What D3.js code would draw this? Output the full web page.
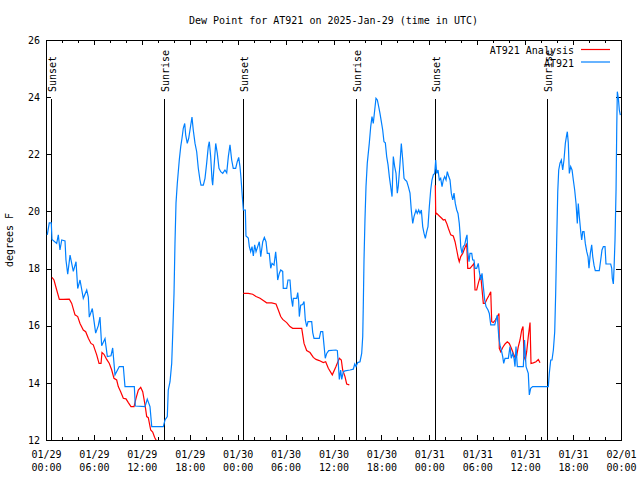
<!DOCTYPE html>
<html><head><meta charset="utf-8">
<script src="https://cdn.jsdelivr.net/npm/d3@7/dist/d3.min.js"></script>
<style>
html,body{margin:0;padding:0;background:#fff;}
svg text{font-family:"DejaVu Sans Mono",monospace;font-size:10px;fill:#000;}
</style></head>
<body><svg id="chart" width="640" height="480"></svg>
<script>
// ---- data (hours since 2025-01-29 00:00 UTC, degrees F) ----
const title = "Dew Point for AT921 on 2025-Jan-29 (time in UTC)";
const yLabel = "degrees F";
const seriesNames = ["AT921 Analysis", "AT921"];
const seriesColors = ["#ff0000", "#0080ff"];
const xTickHours = [0,6,12,18,24,30,36,42,48,54,60,66,72];
const xTickDates = ["01/29","01/29","01/29","01/29","01/30","01/30","01/30","01/30","01/31","01/31","01/31","01/31","02/01"];
const xTickTimes = ["00:00","06:00","12:00","18:00","00:00","06:00","12:00","18:00","00:00","06:00","12:00","18:00","00:00"];
const xMinorHours = [2,4,8,10,14,16,20,22,26,28,32,34,38,40,44,46,50,52,56,58,62,64,68,70];
const yTicks = [12,14,16,18,20,22,24,26];
const sunNames = ["Sunset","Sunrise","Sunset","Sunrise","Sunset","Sunrise"];
const sunHours = [0.63,14.81,24.71,38.76,48.65,62.77];

// AT921 observations
const obsHours = [0.16,0.41,0.66,0.75,1.34,1.54,1.75,1.97,2.38,2.50,2.72,3.01,3.42,3.76,3.97,4.26,4.67,5.10,5.30,5.42,5.80,6.22,6.55,6.76,6.97,7.39,7.68,8.14,8.35,8.64,9.18,9.68,9.89,11.06,11.18,12.40,12.68,13.02,13.24,14.69,14.90,15.19,15.31,15.53,15.74,15.87,16.03,16.15,16.28,16.44,16.69,16.87,17.03,17.19,17.37,17.49,17.69,17.87,18.03,18.28,18.44,18.66,18.87,19.07,19.28,19.41,19.70,19.91,20.12,20.32,20.45,20.62,20.79,20.87,21.04,21.25,21.45,21.66,21.88,22.13,22.41,22.63,22.83,23.04,23.25,23.45,23.75,23.95,24.13,24.29,24.42,24.58,24.71,24.96,25.04,25.33,25.46,25.63,25.80,25.96,26.13,26.30,26.51,26.71,26.89,27.14,27.34,27.55,27.71,27.96,28.14,28.30,28.55,28.76,28.89,29.01,29.21,29.39,29.64,29.71,30.14,30.30,30.55,30.72,30.89,30.97,31.39,31.52,31.64,31.72,31.89,32.14,32.31,32.47,32.65,32.81,33.27,33.40,33.56,34.22,34.40,34.65,34.81,34.97,35.15,35.40,36.31,36.48,36.60,36.73,36.90,37.03,37.23,37.44,38.07,38.48,38.66,38.82,39.03,39.32,39.53,39.66,39.73,39.82,39.94,40.07,40.23,40.48,40.66,40.82,40.98,41.16,41.32,41.49,41.66,41.82,41.99,42.16,42.32,42.49,42.66,42.83,42.99,43.16,43.33,43.49,43.66,43.83,43.99,44.12,44.33,44.49,44.67,44.83,44.99,45.17,45.37,45.58,45.74,45.92,46.08,46.33,46.49,46.67,46.83,47.00,47.17,47.33,47.50,47.67,47.83,48.00,48.17,48.33,48.50,48.67,48.80,48.92,49.09,49.25,49.42,49.59,49.75,49.92,50.09,50.25,50.43,50.59,50.75,50.93,51.09,51.25,51.43,51.59,51.75,51.84,51.93,52.09,52.25,52.43,52.59,52.72,52.81,52.97,53.09,53.31,53.43,53.59,53.72,53.93,54.13,54.26,54.43,54.60,54.76,54.93,55.10,55.35,55.51,55.69,56.19,56.35,56.51,56.69,56.85,57.01,57.19,57.31,57.48,57.89,58.10,58.26,58.44,58.60,58.73,58.85,59.02,59.77,59.92,60.11,60.39,60.52,60.69,60.94,62.90,63.02,63.20,63.36,63.53,63.70,63.82,63.95,64.08,64.20,64.36,64.53,64.70,64.86,65.03,65.20,65.28,65.40,65.53,65.70,65.87,66.03,66.20,66.37,66.53,66.65,66.78,66.96,67.08,67.21,67.37,67.53,67.71,67.87,67.99,68.16,68.33,68.46,68.62,68.78,69.28,69.46,69.62,69.79,70.00,70.12,70.71,70.84,70.91,71.04,71.13,71.25,71.38,71.47,71.54,71.67,71.79,71.92];
const obsValues = [19.18,19.6,19.6,19.02,18.88,19.18,18.65,19.0,18.97,18.3,17.8,18.47,17.9,18.24,17.3,17.6,16.96,17.25,17.0,16.3,16.6,15.74,16.0,16.3,15.3,15.55,14.92,14.95,15.22,14.28,14.57,14.57,13.87,13.87,13.19,13.17,13.43,13.17,12.47,12.47,12.7,12.82,13.75,14.04,14.68,15.73,17.13,18.88,20.3,20.98,21.8,22.27,22.56,22.91,23.08,22.68,22.38,22.56,22.85,23.3,22.85,22.38,22.09,21.51,21.1,20.92,20.92,21.16,21.69,22.27,22.44,21.92,21.1,20.92,21.57,22.38,22.03,21.51,21.39,21.33,21.45,21.35,21.92,22.33,21.8,21.51,21.51,21.74,21.89,21.57,21.16,20.52,20.05,20.05,19.14,19.07,18.77,18.59,18.77,18.44,18.83,18.59,18.77,18.94,18.42,18.94,19.09,18.94,18.53,18.53,18.01,18.18,18.12,18.59,18.18,17.6,17.83,17.95,17.9,17.31,17.31,17.6,17.6,16.96,16.67,16.96,16.96,17.16,16.85,16.32,16.72,16.74,16.85,16.2,15.97,16.14,16.14,15.76,15.56,15.56,15.79,15.79,15.32,14.86,15.03,15.13,15.15,15.13,14.68,14.12,14.45,14.12,14.39,14.42,14.45,14.48,14.66,14.57,14.71,14.74,15.03,15.62,16.7,18.3,19.7,20.87,21.69,22.38,22.97,23.32,23.08,23.55,23.96,23.9,23.67,23.43,23.14,22.85,22.44,22.4,21.92,21.63,21.22,20.87,20.52,21.92,21.57,21.33,20.64,20.9,21.69,22.38,21.8,21.16,21.1,21.05,20.87,20.64,20.05,19.58,19.82,20.05,19.93,20.05,19.93,20.05,19.47,19.24,19.06,19.29,19.47,20.17,20.75,21.1,21.28,21.33,21.8,21.33,21.45,21.1,21.16,20.87,21.1,21.22,21.1,21.39,21.22,21.1,20.64,20.4,20.64,20.28,20.05,19.93,19.58,19.24,18.77,18.53,18.77,18.83,19.06,19.18,18.59,18.24,18.53,18.53,18.3,18.3,18.01,18.01,18.18,17.89,17.6,17.83,17.37,16.9,16.67,16.55,16.43,16.03,16.03,16.2,16.37,15.62,15.32,15.15,14.92,14.68,14.86,14.86,15.27,14.86,15.03,14.86,14.57,15.27,14.57,14.57,15.5,14.57,14.33,13.58,13.81,13.87,13.87,14.33,14.8,14.8,15.15,15.79,17.13,19.0,20.69,21.45,21.69,21.8,21.45,21.8,22.38,22.68,22.79,22.4,21.33,21.57,21.45,21.1,20.75,20.28,19.58,20.28,19.82,19.29,19.0,19.29,19.29,18.88,18.59,18.42,18.01,18.53,18.83,18.42,18.12,17.93,17.93,18.3,18.65,18.77,18.77,18.16,18.16,18.01,17.66,17.46,18.01,19.0,20.75,22.97,24.19,23.96,23.55,23.37];

// AT921 Analysis (three separate runs)
const anaHours1 = [0.75,1.00,1.34,1.67,2.17,2.92,3.22,3.63,3.97,4.26,4.67,4.97,5.30,5.63,5.92,6.35,6.64,6.89,7.01,7.26,7.60,7.93,8.23,8.51,8.85,9.05,9.35,9.68,10.02,10.31,10.64,11.02,11.27,11.56,11.86,12.11,12.40,12.61,12.81,13.11,13.36,13.61,13.77,14.06];
const anaValues1 = [17.69,17.6,17.25,16.92,16.92,16.93,16.78,16.38,16.32,16.08,15.85,15.79,15.56,15.38,15.33,14.98,14.68,14.68,15.06,15.0,14.82,14.68,14.45,14.16,14.1,13.87,13.69,13.46,13.44,13.31,13.17,13.17,13.46,13.75,13.84,13.69,13.23,12.82,12.78,12.35,12.28,12.09,12.0,11.9];
const anaHours2 = [24.71,25.33,25.88,26.30,26.80,27.21,27.63,28.26,28.80,29.09,29.39,29.64,30.14,30.55,30.89,32.02,32.31,32.64,33.06,33.47,33.81,34.22,34.72,35.02,35.35,35.85,36.31,36.73,36.98,37.15,37.44,37.65,37.98];
const anaValues2 = [17.13,17.13,17.1,17.02,16.96,16.88,16.8,16.8,16.76,16.55,16.32,16.22,16.11,15.97,15.91,15.91,15.38,15.13,15.06,14.89,14.82,14.78,14.71,14.74,14.51,14.28,14.57,14.86,14.8,14.45,14.22,13.96,13.93];
const anaHours3 = [48.75,48.80,48.92,49.25,49.55,49.75,49.96,50.18,50.38,50.68,51.00,51.22,51.43,51.63,51.75,51.93,52.18,52.43,52.68,52.81,53.09,53.43,53.59,53.72,53.93,54.13,54.43,54.76,54.97,55.19,55.43,55.69,55.81,56.01,56.26,56.51,56.72,56.76,56.94,57.19,57.48,57.76,58.01,58.27,58.52,58.77,58.94,59.14,59.35,59.57,59.73,59.86,60.02,60.19,60.39,60.61,60.73,61.02,61.36,61.65,61.86];
const anaValues3 = [20.92,19.9,19.93,19.84,19.76,19.7,19.72,19.58,19.41,19.18,19.14,18.94,18.65,18.36,18.24,18.42,18.53,18.71,18.88,18.01,18.01,18.12,18.18,17.25,17.25,17.48,17.78,16.78,16.78,16.92,17.04,17.19,16.14,16.11,16.2,16.32,16.43,15.21,15.09,15.24,15.36,15.44,15.38,15.21,15.03,14.86,14.95,15.27,15.5,15.85,15.97,14.92,14.8,15.09,15.62,16.11,14.68,14.7,14.74,14.82,14.7];

// ---- drawing ----
const svg = d3.select("#chart");
const L = 46, R = 621, T = 40, B = 440;
const x = d3.scaleLinear().domain([0,72]).range([L,R]);
const y = d3.scaleLinear().domain([12,26]).range([B,T]);

svg.append("defs").append("clipPath").attr("id","plotclip")
  .append("rect").attr("x",L).attr("y",T).attr("width",R-L).attr("height",B-T);

// title
svg.append("text").attr("x",(L+R)/2).attr("y",24).attr("text-anchor","middle").text(title);
// y label
svg.append("text").attr("transform","translate(13,240) rotate(-90)").attr("text-anchor","middle").text(yLabel);

function styleAxis(g){
  g.select(".domain").remove();
  g.selectAll("line").attr("stroke","#000").attr("shape-rendering","crispEdges");
  g.selectAll("text").style("font-family","DejaVu Sans Mono, monospace").style("font-size","10px").attr("fill","#000");
}

// bottom major with two-line labels
const gx = svg.append("g").attr("transform",`translate(0,${B})`)
  .call(d3.axisBottom(x).tickValues(xTickHours).tickSize(-5).tickFormat(""));
gx.selectAll(".tick text").remove();
gx.selectAll(".tick").each(function(d,i){
  const t = d3.select(this).append("text").attr("text-anchor","middle");
  t.append("tspan").attr("x",0).attr("y",18).text(xTickDates[i]);
  t.append("tspan").attr("x",0).attr("y",31).text(xTickTimes[i]);
});
styleAxis(gx);
styleAxis(svg.append("g").attr("transform",`translate(0,${B})`)
  .call(d3.axisBottom(x).tickValues(xMinorHours).tickSize(-3).tickFormat("")));
// top mirror
styleAxis(svg.append("g").attr("transform",`translate(0,${T})`)
  .call(d3.axisTop(x).tickValues(xTickHours).tickSize(-5).tickFormat("")));
styleAxis(svg.append("g").attr("transform",`translate(0,${T})`)
  .call(d3.axisTop(x).tickValues(xMinorHours).tickSize(-3).tickFormat("")));
// left
styleAxis(svg.append("g").attr("transform",`translate(${L},0)`)
  .call(d3.axisLeft(y).tickValues(yTicks).tickSize(-5).tickPadding(6).tickFormat(d3.format("d"))));
// right mirror
styleAxis(svg.append("g").attr("transform",`translate(${R},0)`)
  .call(d3.axisRight(y).tickValues(yTicks).tickSize(-5).tickFormat("")));

// border
svg.append("rect").attr("x",L).attr("y",T).attr("width",R-L).attr("height",B-T)
  .attr("fill","none").attr("stroke","#000").attr("shape-rendering","crispEdges");

// sunrise / sunset markers
sunHours.forEach((h,i)=>{
  const px = Math.round(x(h))+0.5;
  svg.append("line").attr("x1",px).attr("x2",px).attr("y1",99).attr("y2",B)
    .attr("stroke","#000").attr("stroke-width",1);
  svg.append("text").attr("transform",`translate(${px+0.5},92) rotate(-90)`)
    .attr("dy","0.35em").attr("text-anchor","start").text(sunNames[i]);
});

const line = d3.line().x(d=>x(d[0])).y(d=>y(d[1]));
const plot = svg.append("g").attr("clip-path","url(#plotclip)");
[[anaHours1,anaValues1],[anaHours2,anaValues2],[anaHours3,anaValues3]].forEach(([h,v])=>{
  plot.append("path").datum(h.map((t,i)=>[t,v[i]])).attr("d",line)
    .attr("fill","none").attr("stroke",seriesColors[0]).attr("stroke-width",1.2);
});
plot.append("path").datum(obsHours.map((t,i)=>[t,obsValues[i]])).attr("d",line)
  .attr("fill","none").attr("stroke",seriesColors[1]).attr("stroke-width",1.2);

// legend
seriesNames.forEach((n,i)=>{
  const by = 54 + i*12.5;
  svg.append("text").attr("x",574).attr("y",by).attr("text-anchor","end").text(n);
  svg.append("line").attr("x1",581).attr("x2",610).attr("y1",by-4.5).attr("y2",by-4.5)
    .attr("stroke",seriesColors[i]).attr("stroke-width",1.2);
});
</script></body></html>
